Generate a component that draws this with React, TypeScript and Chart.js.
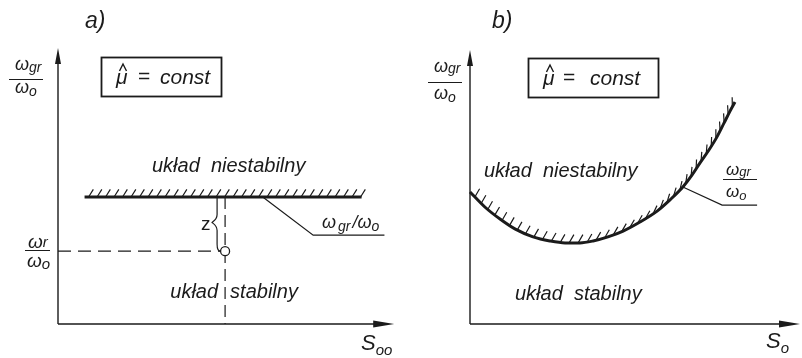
import React, { useEffect, useRef } from "react";
import { Chart, registerables } from "chart.js";

Chart.register(...registerables);

const FONT = "'Liberation Sans', Arial, Helvetica, sans-serif";
const INK = "#1b1b1b";

// ---------- Panel a) : constant stability limit ----------
const A_LIMIT_S = [0.79, 9.03];      // S_oo extent of the limit line
const A_LIMIT_W = [4.6, 4.6];        // ω_gr/ω_o level
const A_OP_S = [4.97];               // operating point S_oo
const A_OP_W = [2.64];               // operating point ω_r/ω_o
const A_LEADER_S = [6.09, 7.59, 9.71];
const A_LEADER_W = [4.6, 3.22, 3.22];

// ---------- Panel b) : stability limit as a function of S_o ----------
const B_S = [0, 0.45, 0.91, 1.36, 1.91, 2.42, 2.88, 3.33, 3.73, 4.18, 4.64, 5.15, 5.67, 6.06, 6.45, 6.73, 6.97, 7.24, 7.48, 7.7, 7.88, 8.03];
const B_W = [4.82, 4.27, 3.83, 3.47, 3.18, 3.03, 2.96, 2.96, 3.03, 3.18, 3.39, 3.72, 4.12, 4.53, 5.0, 5.44, 5.88, 6.35, 6.82, 7.34, 7.77, 8.1];
const B_LEADER_S = [6.45, 7.64, 8.7];
const B_LEADER_W = [5.0, 4.34, 4.34];

const zip = (xs: number[], ys: number[]) => xs.map((x, i) => ({ x, y: ys[i] }));

type Run = { t: string; size: number; dy?: number; dx?: number; upright?: boolean };

function drawRuns(ctx: CanvasRenderingContext2D, runs: Run[], x: number, y: number) {
  let cx = x;
  for (const r of runs) {
    ctx.font = `${r.upright ? "" : "italic "}${r.size}px ${FONT}`;
    cx += r.dx || 0;
    ctx.fillText(r.t, cx, y + (r.dy || 0));
    cx += ctx.measureText(r.t).width;
  }
}

function frac(
  ctx: CanvasRenderingContext2D,
  num: Run[], nx: number, ny: number,
  den: Run[], dx: number, dy: number,
  x1: number, x2: number, ly: number
) {
  drawRuns(ctx, num, nx, ny);
  drawRuns(ctx, den, dx, dy);
  ctx.lineWidth = 1;
  ctx.beginPath();
  ctx.moveTo(x1, ly);
  ctx.lineTo(x2, ly);
  ctx.stroke();
}

function hat(ctx: CanvasRenderingContext2D, cx: number, top: number) {
  ctx.lineWidth = 1.4;
  ctx.beginPath();
  ctx.moveTo(cx - 3.5, top + 7);
  ctx.lineTo(cx, top);
  ctx.lineTo(cx + 3.5, top + 7);
  ctx.stroke();
}

const axesPlugin = {
  id: "arrowAxes",
  beforeDatasetsDraw(chart: any) {
    const { ctx, chartArea } = chart;
    const { left, right, top, bottom } = chartArea;
    ctx.save();
    ctx.strokeStyle = INK;
    ctx.fillStyle = INK;
    ctx.lineWidth = 1.4;
    ctx.beginPath();
    ctx.moveTo(left, bottom);
    ctx.lineTo(left, top + 12);
    ctx.moveTo(left, bottom);
    ctx.lineTo(right - 14, bottom);
    ctx.stroke();
    ctx.beginPath();
    ctx.moveTo(left, top);
    ctx.lineTo(left - 3, top + 16);
    ctx.lineTo(left + 3, top + 16);
    ctx.closePath();
    ctx.fill();
    ctx.beginPath();
    ctx.moveTo(right, bottom);
    ctx.lineTo(right - 21, bottom - 3.5);
    ctx.lineTo(right - 21, bottom + 3.5);
    ctx.closePath();
    ctx.fill();
    ctx.restore();
  },
};

const hatchPlugin = {
  id: "hatch",
  afterDatasetsDraw(chart: any) {
    const ctx: CanvasRenderingContext2D = chart.ctx;
    chart.data.datasets.forEach((ds: any, i: number) => {
      if (!ds.hatch) return;
      const pts = chart.getDatasetMeta(i).data as any[];
      const { spacing, len, angle, offset, start } = ds.hatch;
      ctx.save();
      ctx.strokeStyle = INK;
      ctx.lineWidth = 1.2;
      ctx.beginPath();
      let dist = 0;
      let next = start;
      for (let k = 0; k < pts.length - 1; k++) {
        const p = pts[k], q = pts[k + 1];
        const bez = p.cp2x !== undefined && q.cp1x !== undefined && ds.tension > 0;
        let px = p.x, py = p.y;
        const N = 60;
        for (let s = 1; s <= N; s++) {
          const t = s / N, u = 1 - t;
          let x: number, y: number;
          if (bez) {
            x = u * u * u * p.x + 3 * u * u * t * p.cp2x + 3 * u * t * t * q.cp1x + t * t * t * q.x;
            y = u * u * u * p.y + 3 * u * u * t * p.cp2y + 3 * u * t * t * q.cp1y + t * t * t * q.y;
          } else {
            x = p.x + (q.x - p.x) * t;
            y = p.y + (q.y - p.y) * t;
          }
          const seg = Math.hypot(x - px, y - py);
          if (seg > 0) {
            const tang = Math.atan2(-(y - py), x - px);
            const a = Math.max(angle, tang + offset);
            const dirx = Math.cos(a), diry = -Math.sin(a);
            while (dist + seg >= next) {
              const f = (next - dist) / seg;
              const hx = px + (x - px) * f, hy = py + (y - py) * f;
              ctx.moveTo(hx, hy);
              ctx.lineTo(hx + dirx * len, hy + diry * len);
              next += spacing;
            }
          }
          dist += seg;
          px = x;
          py = y;
        }
      }
      ctx.stroke();
      ctx.restore();
    });
  },
};

function baseOptions(padding: any) {
  return {
    responsive: false,
    animation: false as const,
    events: [] as any[],
    layout: { padding },
    scales: {
      x: { type: "linear" as const, min: 0, max: 10, display: false },
      y: { type: "linear" as const, min: 0, max: 10, display: false },
    },
    plugins: { legend: { display: false }, tooltip: { enabled: false } },
    elements: { point: { radius: 0 } },
  };
}

const decoA = {
  id: "decoA",
  afterDraw(chart: any) {
    const ctx: CanvasRenderingContext2D = chart.ctx;
    const xs = chart.scales.x, ys = chart.scales.y;
    ctx.save();
    ctx.fillStyle = INK;
    ctx.strokeStyle = INK;
    ctx.textBaseline = "alphabetic";
    ctx.textAlign = "left";
    drawRuns(ctx, [{ t: "a)", size: 23 }], 85, 28);
    // box
    ctx.lineWidth = 1.8;
    ctx.strokeRect(101.5, 57.5, 120, 39);
    drawRuns(ctx, [{ t: "μ", size: 21 }], 116, 84);
    hat(ctx, 123, 64);
    drawRuns(ctx, [{ t: "=", size: 21, upright: true }], 138, 83);
    drawRuns(ctx, [{ t: "const", size: 21 }], 160, 84);
    // y axis title
    frac(ctx,
      [{ t: "ω", size: 18 }, { t: "gr", size: 14, dy: 2 }], 15, 70,
      [{ t: "ω", size: 18 }, { t: "o", size: 14, dy: 3 }], 15, 93,
      9, 43, 79.5);
    // ω_r/ω_o at the operating level
    const ly = Math.round(ys.getPixelForValue(A_OP_W[0])) - 0.5;
    frac(ctx,
      [{ t: "ω", size: 19 }, { t: "r", size: 15, dy: -1 }], 28, ly - 3,
      [{ t: "ω", size: 19 }, { t: "o", size: 15, dy: 2 }], 27, ly + 16,
      25, 50, ly);
    // regions
    drawRuns(ctx, [{ t: "układ  niestabilny", size: 20 }], 152, 172);
    const opx = xs.getPixelForValue(A_OP_S[0]);
    const opy = ys.getPixelForValue(A_OP_W[0]);
    const liney = ys.getPixelForValue(A_LIMIT_W[0]);
    ctx.font = `italic 20px ${FONT}`;
    ctx.textAlign = "right";
    ctx.fillText("układ", opx - 7, 298);
    ctx.textAlign = "left";
    ctx.fillText("stabilny", opx + 5, 298);
    // brace z
    const bx = opx - 8;
    const mid = liney + (opy - liney) * 0.47;
    ctx.lineWidth = 1.2;
    ctx.beginPath();
    ctx.moveTo(bx, liney + 1);
    ctx.lineTo(bx, mid - 8);
    ctx.bezierCurveTo(bx, mid - 3, bx - 4, mid - 1, bx - 5, mid);
    ctx.bezierCurveTo(bx - 4, mid + 1, bx, mid + 3, bx, mid + 8);
    ctx.lineTo(bx, opy - 7);
    ctx.quadraticCurveTo(bx, opy, opx - 4.5, opy);
    ctx.stroke();
    drawRuns(ctx, [{ t: "z", size: 19, upright: true }], bx - 16, mid + 8);
    // leader label
    drawRuns(ctx, [
      { t: "ω", size: 18 }, { t: "gr", size: 14, dy: 3, dx: 2 },
      { t: "/", size: 18, dx: 2 }, { t: "ω", size: 18 }, { t: "o", size: 14, dy: 3 },
    ], 322, 228);
    // x axis title
    drawRuns(ctx, [{ t: "S", size: 22 }, { t: "oo", size: 15, dy: 5 }], 361, 350);
    ctx.restore();
  },
};

const decoB = {
  id: "decoB",
  afterDraw(chart: any) {
    const ctx: CanvasRenderingContext2D = chart.ctx;
    ctx.save();
    ctx.fillStyle = INK;
    ctx.strokeStyle = INK;
    ctx.textBaseline = "alphabetic";
    ctx.textAlign = "left";
    drawRuns(ctx, [{ t: "b)", size: 23 }], 92, 28);
    ctx.lineWidth = 1.8;
    ctx.strokeRect(128.5, 58.5, 130, 39);
    drawRuns(ctx, [{ t: "μ", size: 21 }], 143, 85);
    hat(ctx, 150, 65);
    drawRuns(ctx, [{ t: "=", size: 21, upright: true }], 163, 84);
    drawRuns(ctx, [{ t: "const", size: 21 }], 190, 85);
    frac(ctx,
      [{ t: "ω", size: 18 }, { t: "gr", size: 14, dy: 1 }], 34, 72,
      [{ t: "ω", size: 18 }, { t: "o", size: 14, dy: 3 }], 34, 99,
      28, 62, 82.5);
    drawRuns(ctx, [{ t: "układ  niestabilny", size: 20 }], 84, 177);
    drawRuns(ctx, [{ t: "układ  stabilny", size: 20 }], 115, 300);
    frac(ctx,
      [{ t: "ω", size: 17 }, { t: "gr", size: 13, dy: 1 }], 326, 175,
      [{ t: "ω", size: 17 }, { t: "o", size: 13, dy: 3 }], 326, 197,
      323, 357, 179.5);
    drawRuns(ctx, [{ t: "S", size: 22 }, { t: "o", size: 15, dy: 5 }], 366, 348);
    ctx.restore();
  },
};

function configA(): any {
  return {
    type: "line",
    data: {
      datasets: [
        {
          data: zip(A_OP_S, A_OP_W),
          showLine: false,
          pointRadius: 4.5,
          pointBackgroundColor: "#ffffff",
          pointBorderColor: INK,
          pointBorderWidth: 1.3,
          order: 0,
          clip: false,
        },
        {
          data: zip(A_LIMIT_S, A_LIMIT_W),
          borderColor: INK,
          borderWidth: 3,
          tension: 0,
          hatch: { spacing: 8.5, len: 9, angle: (58 * Math.PI) / 180, offset: (30 * Math.PI) / 180, start: 4 },
          order: 1,
          clip: false,
        },
        {
          data: [{ x: 0, y: A_OP_W[0] }, { x: A_OP_S[0], y: A_OP_W[0] }],
          borderColor: INK,
          borderWidth: 1.2,
          borderDash: [13, 7],
          order: 2,
          clip: false,
        },
        {
          data: [{ x: A_OP_S[0], y: A_LIMIT_W[0] }, { x: A_OP_S[0], y: 0 }],
          borderColor: INK,
          borderWidth: 1.2,
          borderDash: [12, 6],
          order: 3,
          clip: false,
        },
        {
          data: zip(A_LEADER_S, A_LEADER_W),
          borderColor: INK,
          borderWidth: 1.2,
          order: 4,
          clip: false,
        },
      ],
    },
    options: baseOptions({ left: 58, right: 2, top: 48, bottom: 34 }),
    plugins: [axesPlugin, hatchPlugin, decoA],
  };
}

function configB(): any {
  return {
    type: "line",
    data: {
      datasets: [
        {
          data: zip(B_S, B_W),
          borderColor: INK,
          borderWidth: 3,
          cubicInterpolationMode: "monotone",
          tension: 0.4,
          hatch: { spacing: 9, len: 9.5, angle: (60 * Math.PI) / 180, offset: (30 * Math.PI) / 180, start: 7 },
          order: 1,
          clip: false,
        },
        {
          data: zip(B_LEADER_S, B_LEADER_W),
          borderColor: INK,
          borderWidth: 1.2,
          order: 2,
          clip: false,
        },
      ],
    },
    options: baseOptions({ left: 70, right: 2, top: 50, bottom: 34 }),
    plugins: [axesPlugin, hatchPlugin, decoB],
  };
}

export default function App() {
  const refA = useRef<HTMLCanvasElement>(null);
  const refB = useRef<HTMLCanvasElement>(null);
  useEffect(() => {
    const a = new Chart(refA.current as HTMLCanvasElement, configA());
    const b = new Chart(refB.current as HTMLCanvasElement, configB());
    return () => {
      a.destroy();
      b.destroy();
    };
  }, []);
  return (
    <div style={{ position: "absolute", left: 0, top: 0, width: 802, height: 358, background: "#ffffff" }}>
      <canvas ref={refA} width={400} height={358} style={{ position: "absolute", left: 0, top: 0, width: 400, height: 358 }} />
      <canvas ref={refB} width={402} height={358} style={{ position: "absolute", left: 400, top: 0, width: 402, height: 358 }} />
    </div>
  );
}
